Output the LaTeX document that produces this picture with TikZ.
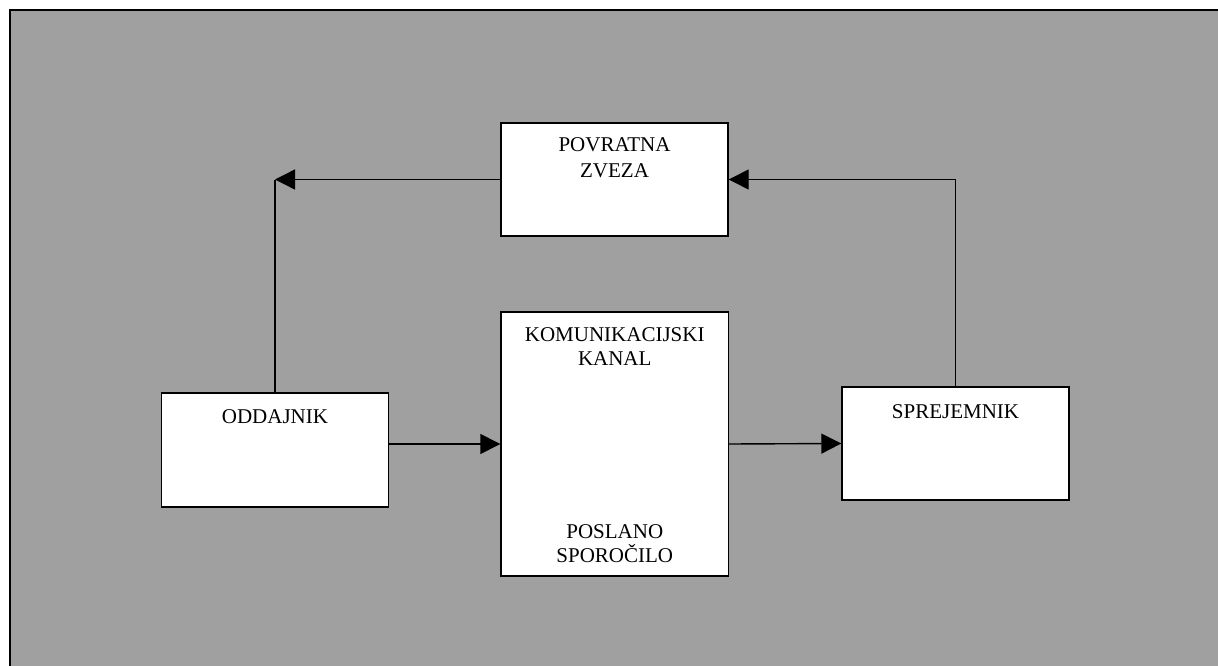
\documentclass[tikz,border=0pt]{standalone}
\usepackage{fontspec}
\setmainfont{Liberation Serif}
\usetikzlibrary{arrows.meta}
\definecolor{bggrey}{RGB}{160,160,160}
\tikzset{
  box/.style={draw=black, fill=white, line width=1.4pt, rectangle, inner sep=0pt},
  lbl/.style={anchor=base, inner sep=0pt, font=\fontsize{21}{24}\selectfont},
  conn/.style={draw=black, line width=1.4pt},
  arr/.style={conn, -{Triangle[length=20pt,width=20pt]}},
}
\begin{document}
\begin{tikzpicture}[x=1pt,y=-1pt]
\useasboundingbox (0,0) rectangle (1218,666);
\clip (0,0) rectangle (1218,666);
\draw[fill=bggrey, line width=2pt] (10,10) rectangle (1240,690);
% boxes
\node[box, minimum width=227pt, minimum height=113pt] (pov) at (614.5,179.5) {};
\node[box, minimum width=227pt, minimum height=114pt] (odd) at (275,450) {};
\node[box, minimum width=227.5pt, minimum height=264pt] (kan) at (614.75,444) {};
\node[box, minimum width=227pt, minimum height=113pt] (spr) at (955.5,443.5) {};
% texts
\node[lbl] (povA) at (614.5,152) {POVRATNA};
\node[lbl] (povB) at (614.5,178) {ZVEZA};
\node[lbl] (oddA) at (275,423) {ODDAJNIK};
\node[lbl] (kanA) at (614.75,341) {KOMUNIKACIJSKI};
\node[lbl] (kanB) at (614.75,365) {KANAL};
\node[lbl] (kanC) at (614.75,538) {POSLANO};
\node[lbl] (kanD) at (614.75,562) {SPOROČILO};
\node[lbl] (sprA) at (955.5,418) {SPREJEMNIK};
% connectors
\coordinate (cornerL) at (odd.north |- pov.west);
\draw[arr] (odd.east |- kan.west) -- (kan.west);
\draw[arr] (kan.east) -- (spr.west);
\draw[arr] (spr.north) |- (pov.east);
\draw[conn] (odd.north) -- (cornerL);
\draw[arr] (pov.west) -- (cornerL);
\end{tikzpicture}
\end{document}
